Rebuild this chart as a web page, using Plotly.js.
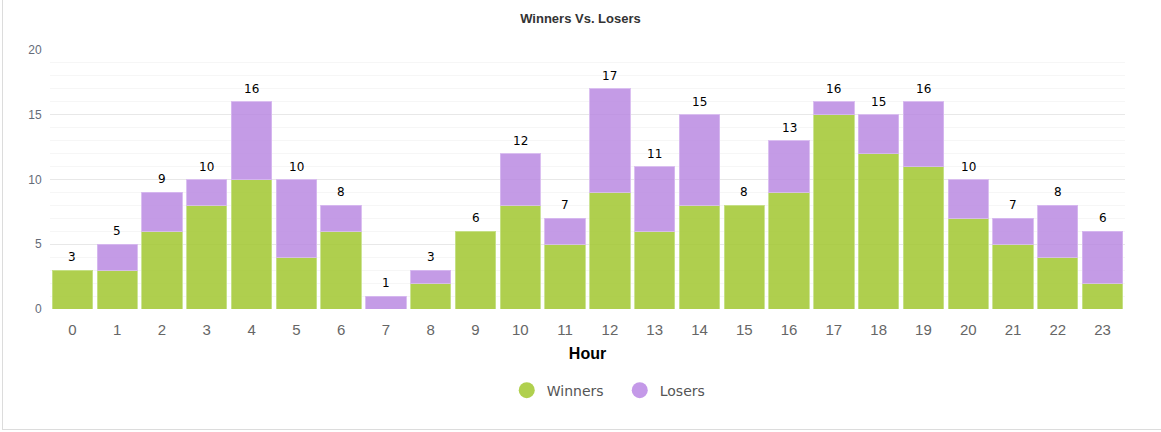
<!DOCTYPE html>
<html>
<head>
<meta charset="utf-8">
<script src="https://cdn.plot.ly/plotly-3.0.1.min.js"></script>
<style>
html,body{margin:0;padding:0;background:#fff;}
#wrap{position:relative;width:1161px;height:432px;overflow:hidden;}
#frame{position:absolute;left:2px;top:-2px;width:1170px;height:432px;border:1px solid #dcdcdc;box-sizing:border-box;pointer-events:none;}
#chart{position:absolute;left:0;top:0;width:1161px;height:432px;}
</style>
</head>
<body>
<div id="wrap"><div id="chart"></div><div id="frame"></div></div>
<script>
const hours = ['0','1','2','3','4','5','6','7','8','9','10','11','12','13','14','15','16','17','18','19','20','21','22','23'];
const winners = [3,3,6,8,10,4,6,0,2,6,8,5,9,6,8,8,9,15,12,11,7,5,4,2];
const losers  = [0,2,3,2,6,6,2,1,1,0,4,2,8,5,7,0,4,1,3,5,3,2,4,4];
const totals = winners.map((w,i)=>w+losers[i]);

const green = 'rgba(163,200,52,0.87)';
const purple = 'rgba(183,133,225,0.82)';

const traces = [
  {type:'bar', x:hours, y:winners, name:'Winners', showlegend:false,
   marker:{color:green, line:{color:'rgba(200,225,140,0.9)', width:winners.map(v=>v?1:0)}}, hoverinfo:'y'},
  {type:'bar', x:hours, y:losers, name:'Losers', showlegend:false,
   marker:{color:purple, line:{color:'rgba(215,185,240,0.9)', width:losers.map(v=>v?1:0)}}, hoverinfo:'y'},
  {type:'scatter', mode:'markers', x:[null], y:[null], name:'Winners',
   marker:{symbol:'circle', size:16, color:'rgb(176,208,78)'}},
  {type:'scatter', mode:'markers', x:[null], y:[null], name:'Losers',
   marker:{symbol:'circle', size:16, color:'rgb(196,153,232)'}}
];

const annotations = hours.map((h,i)=>({
  x:h, y:totals[i], xref:'x', yref:'y', text:String(totals[i]), showarrow:false,
  yanchor:'middle', yshift:13,
  font:{family:'DejaVu Sans, Verdana, sans-serif', size:12, color:'#000'}
}));

const layout = {
  width:1161, height:432,
  margin:{l:50, r:36, t:50, b:123},
  paper_bgcolor:'#fff', plot_bgcolor:'#fff',
  barmode:'stack', bargap:0.1,
  annotations:annotations,
  title:{text:'Winners Vs. Losers', x:0.5, xanchor:'center', y:0.958, yref:'container', yanchor:'middle',
         font:{family:'Liberation Sans, Arial, sans-serif', size:13, color:'#333', weight:'bold'}},
  xaxis:{type:'category', range:[-0.5,23.5], showgrid:false, zeroline:false, showline:false,
         ticks:'outside', ticklen:7, tickcolor:'rgba(0,0,0,0)',
         tickfont:{family:'Liberation Sans, Arial, sans-serif', size:15, color:'#666'},
         title:{text:'<b>Hour</b>', standoff:10, font:{family:'Liberation Sans, Arial, sans-serif', size:16, color:'#000'}}},
  yaxis:{range:[0,20], dtick:5, tick0:0, showgrid:true, gridcolor:'#e8e8e8', gridwidth:1,
         zeroline:false, showline:false, ticks:'outside', ticklen:5, tickcolor:'rgba(0,0,0,0)',
         tickfont:{family:'Liberation Sans, Arial, sans-serif', size:12, color:'#646b78'},
         minor:{dtick:1, showgrid:true, gridcolor:'#f6f6f6', gridwidth:1}},
  legend:{orientation:'h', x:0.53, xanchor:'center', y:-0.315, yanchor:'middle', traceorder:'normal',
          font:{family:'DejaVu Sans, Verdana, sans-serif', size:14, color:'#555'},
          itemwidth:30, entrywidth:68, entrywidthmode:'pixels'},
  showlegend:true
};

Plotly.newPlot('chart', traces, layout, {displayModeBar:false, staticPlot:true});
</script>
</body>
</html>
